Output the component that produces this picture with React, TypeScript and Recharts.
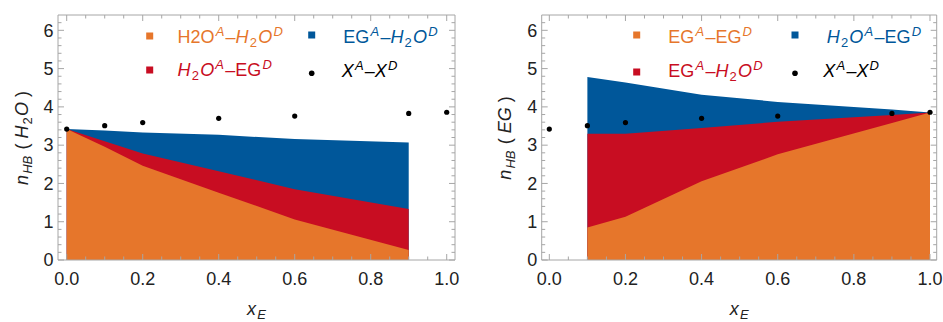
import React from 'react';
import { ComposedChart, Area, Scatter, XAxis, YAxis } from 'recharts';

const ORANGE = '#E6762B';
const RED = '#C80D22';
const BLUE = '#00579A';
const FRAME = '#A6A6A6';
const INK = '#222';
const FONT = '"Liberation Sans", Arial, sans-serif';

// x_E values
const xE = [0, 0.1, 0.2, 0.4, 0.6, 0.9, 1.0];
// X^A–X^D points (same in both panels)
const totalHB = [3.42, 3.51, 3.59, 3.7, 3.76, 3.83, 3.86];

// left panel n_HB(H2O): upper edge of each filled region
const h2oOrangeTop = [3.42, 2.96, 2.46, 1.76, 1.06, 0.26, null];
const h2oRedTop = [3.42, 3.1, 2.78, 2.32, 1.85, 1.33, null];
const h2oBlueTop = [3.42, 3.38, 3.33, 3.27, 3.16, 3.07, null];

// right panel n_HB(EG)
const egOrangeTop = [null, 0.85, 1.13, 2.06, 2.76, 3.58, 3.85];
const egRedTop = [null, 3.3, 3.3, 3.45, 3.61, 3.79, 3.85];
const egBlueTop = [null, 4.78, 4.64, 4.32, 4.13, 3.93, 3.85];

const xMajor = [0, 0.2, 0.4, 0.6, 0.8, 1.0];
const xMinor = [0.05, 0.1, 0.15, 0.25, 0.3, 0.35, 0.45, 0.5, 0.55, 0.65, 0.7, 0.75, 0.85, 0.9, 0.95];
const yMajor = [0, 1, 2, 3, 4, 5, 6];
const yMinor = [0.2, 0.4, 0.6, 0.8, 1.2, 1.4, 1.6, 1.8, 2.2, 2.4, 2.6, 2.8, 3.2, 3.4, 3.6, 3.8, 4.2, 4.4, 4.6, 4.8, 5.2, 5.4, 5.6, 5.8, 6.2];

type Seg = { t: string; i?: boolean; s?: 'sup' | 'sub' };

const H2O_i: Seg[] = [{ t: 'H', i: true }, { t: '2', s: 'sub' }, { t: 'O', i: true }];
const sup = (t: string): Seg => ({ t, i: true, s: 'sup' });
const dash: Seg = { t: '–' };

const legendLeft = [
  { color: ORANGE, kind: 'sq', segs: [{ t: 'H2O' }, sup('A'), dash, ...H2O_i, sup('D')] },
  { color: BLUE, kind: 'sq', segs: [{ t: 'EG' }, sup('A'), dash, ...H2O_i, sup('D')] },
  { color: RED, kind: 'sq', segs: [...H2O_i, sup('A'), dash, { t: 'EG' }, sup('D')] },
  { color: '#000', kind: 'dot', segs: [{ t: 'X', i: true }, sup('A'), dash, { t: 'X', i: true }, sup('D')] },
];
const legendRight = [
  { color: ORANGE, kind: 'sq', segs: [{ t: 'EG' }, sup('A'), dash, { t: 'EG' }, sup('D')] },
  { color: BLUE, kind: 'sq', segs: [...H2O_i, sup('A'), dash, { t: 'EG' }, sup('D')] },
  { color: RED, kind: 'sq', segs: [{ t: 'EG' }, sup('A'), dash, ...H2O_i, sup('D')] },
  { color: '#000', kind: 'dot', segs: [{ t: 'X', i: true }, sup('A'), dash, { t: 'X', i: true }, sup('D')] },
];

const RichText = ({ x, y, segs, fill, size = 18, small = 13, gap = 1.2, anchor, transform }: any) => {
  let shift = 0;
  return (
    <text x={x} y={y} fill={fill} fontSize={size} fontFamily={FONT} textAnchor={anchor} transform={transform}>
      {segs.map((sg: Seg, k: number) => {
        const target = sg.s === 'sup' ? -7 : sg.s === 'sub' ? 4 : 0;
        const dy = target - shift;
        const dx = k > 0 && (sg.s || segs[k - 1].s) ? gap : 0;
        shift = target;
        return (
          <tspan key={k} dx={dx} dy={dy} fontStyle={sg.i ? 'italic' : 'normal'} fontSize={sg.s ? small : size}>
            {sg.t}
          </tspan>
        );
      })}
    </text>
  );
};

const makeTick = (side: 'bottom' | 'top' | 'left' | 'right') => (props: any) => {
  const { x, y, payload } = props;
  const v = payload.value;
  const isX = side === 'bottom' || side === 'top';
  const major = (isX ? xMajor : yMajor).includes(v);
  const len = major ? 6 : 3.5;
  let line;
  if (side === 'bottom') line = <line x1={x} x2={x} y1={y} y2={y - len} stroke={FRAME} />;
  else if (side === 'top') line = <line x1={x} x2={x} y1={y} y2={y + len} stroke={FRAME} />;
  else if (side === 'left') line = <line x1={x} x2={x + len} y1={y} y2={y} stroke={FRAME} />;
  else line = <line x1={x} x2={x - len} y1={y} y2={y} stroke={FRAME} />;
  return (
    <g>
      {line}
      {major && side === 'bottom' && (
        <text x={x} y={y + 24.5} textAnchor="middle" fontSize={18} fill={INK} fontFamily={FONT}>
          {v.toFixed(1)}
        </text>
      )}
      {major && side === 'left' && (
        <text x={x - 4.5} y={y + 6.3} textAnchor="end" fontSize={18} fill={INK} fontFamily={FONT}>
          {v}
        </text>
      )}
    </g>
  );
};

const Panel = ({ width, plot, domain, orange, red, blue, legend, legendPos, yLabel }: any) => {
  const data = xE.map((x, k) => ({ x, orange: orange[k], red: red[k], blue: blue[k], dots: totalHB[k] }));
  const height = 322;
  // axes take 1px each, margins shrink to keep the plot box where it should be
  const margin = { top: plot.top - 1, right: plot.right - 1, bottom: plot.bottom - 1, left: plot.left - 1 };
  const plotBottom = height - plot.bottom;
  const plotCenterX = (plot.left + width - plot.right) / 2;
  const xTicks = [...xMajor, ...xMinor];
  const yTicks = [...yMajor, ...yMinor];
  const common = {
    allowDataOverflow: true,
    interval: 0 as const,
    tickSize: 0,
    tickMargin: 0,
    axisLine: { stroke: FRAME },
    tickLine: false,
  };
  return (
    <div style={{ position: 'relative', width, height }}>
      <ComposedChart width={width} height={height} data={data} margin={margin}>
        <XAxis {...common} dataKey="x" type="number" domain={domain} ticks={xTicks} height={1} tick={makeTick('bottom')} />
        <XAxis {...common} xAxisId="top" orientation="top" dataKey="x" type="number" domain={domain} ticks={xTicks} height={1} tick={makeTick('top')} />
        <YAxis {...common} type="number" domain={[0, 6.4]} ticks={yTicks} width={1} tick={makeTick('left')} />
        <YAxis {...common} yAxisId="right" orientation="right" type="number" domain={[0, 6.4]} ticks={yTicks} width={1} tick={makeTick('right')} />
        <Area dataKey="blue" type="linear" stroke="none" fill={BLUE} fillOpacity={1} baseValue={0} dot={false} activeDot={false} isAnimationActive={false} />
        <Area dataKey="red" type="linear" stroke="none" fill={RED} fillOpacity={1} baseValue={0} dot={false} activeDot={false} isAnimationActive={false} />
        <Area dataKey="orange" type="linear" stroke="none" fill={ORANGE} fillOpacity={1} baseValue={0} dot={false} activeDot={false} isAnimationActive={false} />
        <Scatter
          dataKey="dots"
          fill="#000"
          isAnimationActive={false}
          shape={(p: any) => <circle cx={p.cx} cy={p.cy} r={2.6} fill="#000" />}
        />
      </ComposedChart>
      <svg width={width} height={height} style={{ position: 'absolute', left: 0, top: 0, pointerEvents: 'none' }}>
        {legend.map((item: any, k: number) => {
          const p = legendPos[k];
          return (
            <g key={k}>
              {item.kind === 'sq' ? (
                <rect x={p.mx - 3.5} y={p.my - 3.5} width={7} height={7} fill={item.color} />
              ) : (
                <circle cx={p.mx} cy={p.my} r={2.8} fill="#000" />
              )}
              <RichText x={p.tx} y={p.ty} segs={item.segs} fill={item.color} />
            </g>
          );
        })}
        <RichText
          x={0}
          y={0}
          anchor="middle"
          fill={INK}
          transform={`translate(${plot.left - 30.5},138) rotate(-90)`}
          segs={yLabel}
        />
        <RichText
          x={plotCenterX}
          y={plotBottom + 55}
          anchor="middle"
          fill={INK}
          segs={[{ t: 'x', i: true }, { t: 'E', i: true, s: 'sub' }]}
        />
      </svg>
    </div>
  );
};

const yLabelH2O: Seg[] = [
  { t: 'n', i: true },
  { t: 'HB', i: true, s: 'sub' },
  { t: ' ( ' },
  ...H2O_i,
  { t: ' )' },
];
const yLabelEG: Seg[] = [
  { t: 'n', i: true },
  { t: 'HB', i: true, s: 'sub' },
  { t: ' ( ' },
  { t: 'EG', i: true },
  { t: ' )' },
];

export default function App() {
  return (
    <div style={{ position: 'absolute', left: 0, top: 0, width: 943, height: 322, background: '#fff', display: 'flex' }}>
      <Panel
        width={470}
        plot={{ top: 15, right: 15, bottom: 62, left: 58 }}
        domain={[-0.0229, 1.0218]}
        orange={h2oOrangeTop}
        red={h2oRedTop}
        blue={h2oBlueTop}
        legend={legendLeft}
        legendPos={[
          { mx: 149.7, my: 36, tx: 177.5, ty: 43 },
          { mx: 311.7, my: 35, tx: 343.3, ty: 43 },
          { mx: 149.7, my: 70, tx: 177.5, ty: 76 },
          { mx: 311.7, my: 73.3, tx: 341.7, ty: 77 },
        ]}
        yLabel={yLabelH2O}
      />
      <Panel
        width={473}
        plot={{ top: 15, right: 6.3, bottom: 62, left: 71.7 }}
        domain={[-0.02, 1.0176]}
        orange={egOrangeTop}
        red={egRedTop}
        blue={egBlueTop}
        legend={legendRight}
        legendPos={[
          { mx: 166.7, my: 35, tx: 198.3, ty: 43 },
          { mx: 325, my: 35, tx: 356.7, ty: 43 },
          { mx: 166.7, my: 72, tx: 198.3, ty: 77 },
          { mx: 325, my: 73.3, tx: 353.3, ty: 77 },
        ]}
        yLabel={yLabelEG}
      />
    </div>
  );
}
